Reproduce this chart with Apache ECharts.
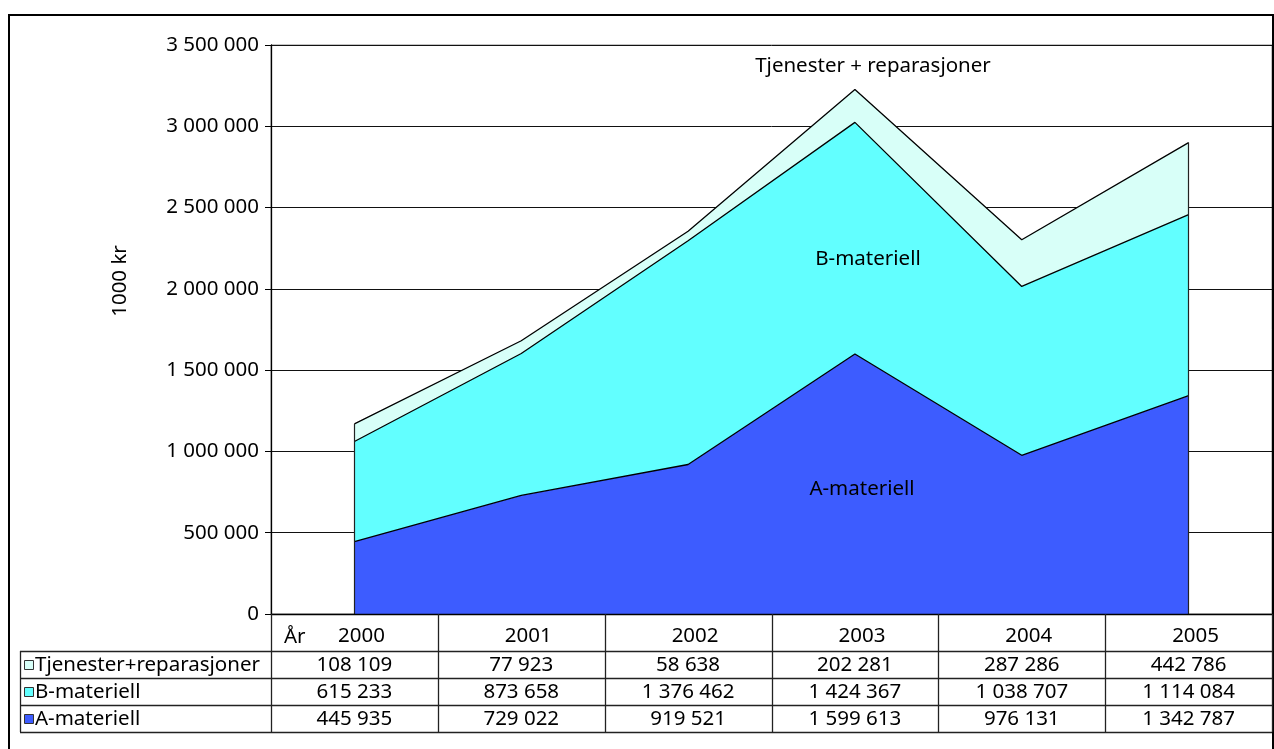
<!DOCTYPE html>
<html><head><meta charset="utf-8">
<script src="https://cdn.jsdelivr.net/npm/echarts@6/dist/echarts.min.js"></script>
<style>html,body{margin:0;padding:0;background:#fff}#c{width:1274px;height:749px}</style>
</head><body><div id="c"></div>
<script>
const years = ['2000','2001','2002','2003','2004','2005'];
const aMateriell = [445935, 729022, 919521, 1599613, 976131, 1342787];
const bMateriell = [615233, 873658, 1376462, 1424367, 1038707, 1114084];
const tjenester = [108109, 77923, 58638, 202281, 287286, 442786];
const tableRowNames = ['Tjenester+reparasjoner', 'B-materiell', 'A-materiell'];
const yTicks = [0, 500000, 1000000, 1500000, 2000000, 2500000, 3000000, 3500000];

const colA = '#3d5cff', colB = '#62ffff', colT = '#d8fff8';
const FONT = 'Noto Sans';
const FS = 20.5;
const F = FS + 'px "' + FONT + '"';
const fmt = v => String(Math.round(v)).replace(/\B(?=(\d{3})+(?!\d))/g, ' ');

const G = {left: 271, right: 1272, top: 45, bottom: 614};
const W = 1274, H = 749;
const colW = (G.right - G.left) / years.length;
const rowLines = [651, 678, 705, 732];

const totals = years.map((_, i) => aMateriell[i] + bMateriell[i] + tjenester[i]);

const graphics = [];
graphics.push({type:'rect', shape:{x:9, y:15, width:1264, height:745}, style:{fill:'none', stroke:'#000', lineWidth:2}, z:0});
const tStroke = {stroke:'#222', lineWidth:1.3};
for (let i = 0; i <= years.length; i++) {
  const x = Math.round(G.left + i * colW) + 0.5;
  graphics.push({type:'line', shape:{x1:x, y1:G.bottom, x2:x, y2:rowLines[3]}, style:tStroke, z:10});
}
graphics.push({type:'line', shape:{x1:20.5, y1:rowLines[0], x2:20.5, y2:rowLines[3]}, style:tStroke, z:10});
rowLines.forEach(y => {
  graphics.push({type:'line', shape:{x1:20, y1:y+0.5, x2:G.right, y2:y+0.5}, style:tStroke, z:10});
});
graphics.push({type:'text', x:284, y:(G.bottom+rowLines[0])/2 + 5, style:{text:'År', font:F, fill:'#000', verticalAlign:'middle'}, z:11});
const rowsData = [tjenester, bMateriell, aMateriell];
const rowCols = [colT, colB, colA];
rowsData.forEach((arr, r) => {
  const yc = (rowLines[r] + rowLines[r+1]) / 2;
  graphics.push({type:'rect', shape:{x:24.5, y:Math.round(yc)-4.5, width:9, height:9}, style:{fill:rowCols[r], stroke:'#333', lineWidth:1}, z:11});
  graphics.push({type:'text', x:35, y:yc+1, style:{text:tableRowNames[r], font:F, fill:'#000', verticalAlign:'middle'}, z:11});
  arr.forEach((v, i) => {
    graphics.push({type:'text', x:G.left + (i+0.5)*colW, y:yc+1, style:{text:fmt(v), font:F, fill:'#000', align:'center', verticalAlign:'middle'}, z:11});
  });
});
const lbl = (t, x, y) => ({type:'text', x, y, style:{text:t, font:F, fill:'#000', align:'center', verticalAlign:'middle'}, z:20});
graphics.push(lbl('Tjenester + reparasjoner', 873, 66));
graphics.push(lbl('B-materiell', 868, 259));
graphics.push(lbl('A-materiell', 862, 489));
graphics.push({type:'text', x:120, y:281, rotation:Math.PI/2, style:{text:'1000 kr', font:F, fill:'#000', align:'center', verticalAlign:'middle'}, z:20});

const edgeLines = [
  [{coord:[years[0], 0]}, {coord:[years[0], totals[0]]}],
  [{coord:[years[years.length-1], 0]}, {coord:[years[years.length-1], totals[totals.length-1]]}]
];

const mk = (name, data, color, extra) => Object.assign({
  name, type:'line', stack:'tot', data, symbol:'none', smooth:false,
  lineStyle:{color:'#000', width:1.3}, areaStyle:{color, opacity:1},
  itemStyle:{color}, z:3, animation:false
}, extra || {});

const chart = echarts.init(document.getElementById('c'), null, {renderer:'canvas'});
chart.setOption({
  animation:false,
  textStyle:{fontFamily:FONT},
  grid:{left:G.left, right:W-G.right, top:G.top, bottom:H-G.bottom, show:true, borderColor:'#888', borderWidth:1, backgroundColor:'transparent'},
  xAxis:{type:'category', data:years, boundaryGap:true,
    axisLine:{lineStyle:{color:'#000', width:1.3}}, axisTick:{show:false},
    axisLabel:{fontSize:FS, color:'#000', fontFamily:FONT, margin:12, padding:[0,0,0,14]},
    splitLine:{show:false}, z:5},
  yAxis:{type:'value', min:yTicks[0], max:yTicks[yTicks.length-1], interval:yTicks[1]-yTicks[0],
    axisLine:{show:true, lineStyle:{color:'#000', width:1.3}},
    axisTick:{show:true, length:6, lineStyle:{color:'#000'}},
    axisLabel:{fontSize:FS, color:'#000', fontFamily:FONT, margin:12, formatter:fmt},
    splitLine:{show:true, lineStyle:{color:'#111', width:1}}, z:1},
  series:[
    mk('A-materiell', aMateriell, colA),
    mk('B-materiell', bMateriell, colB),
    mk('Tjenester+reparasjoner', tjenester, colT, {markLine:{silent:true, symbol:'none', label:{show:false}, lineStyle:{color:'#222', width:1.2, type:'solid'}, data:edgeLines}})
  ],
  graphic:graphics
});
</script></body></html>
